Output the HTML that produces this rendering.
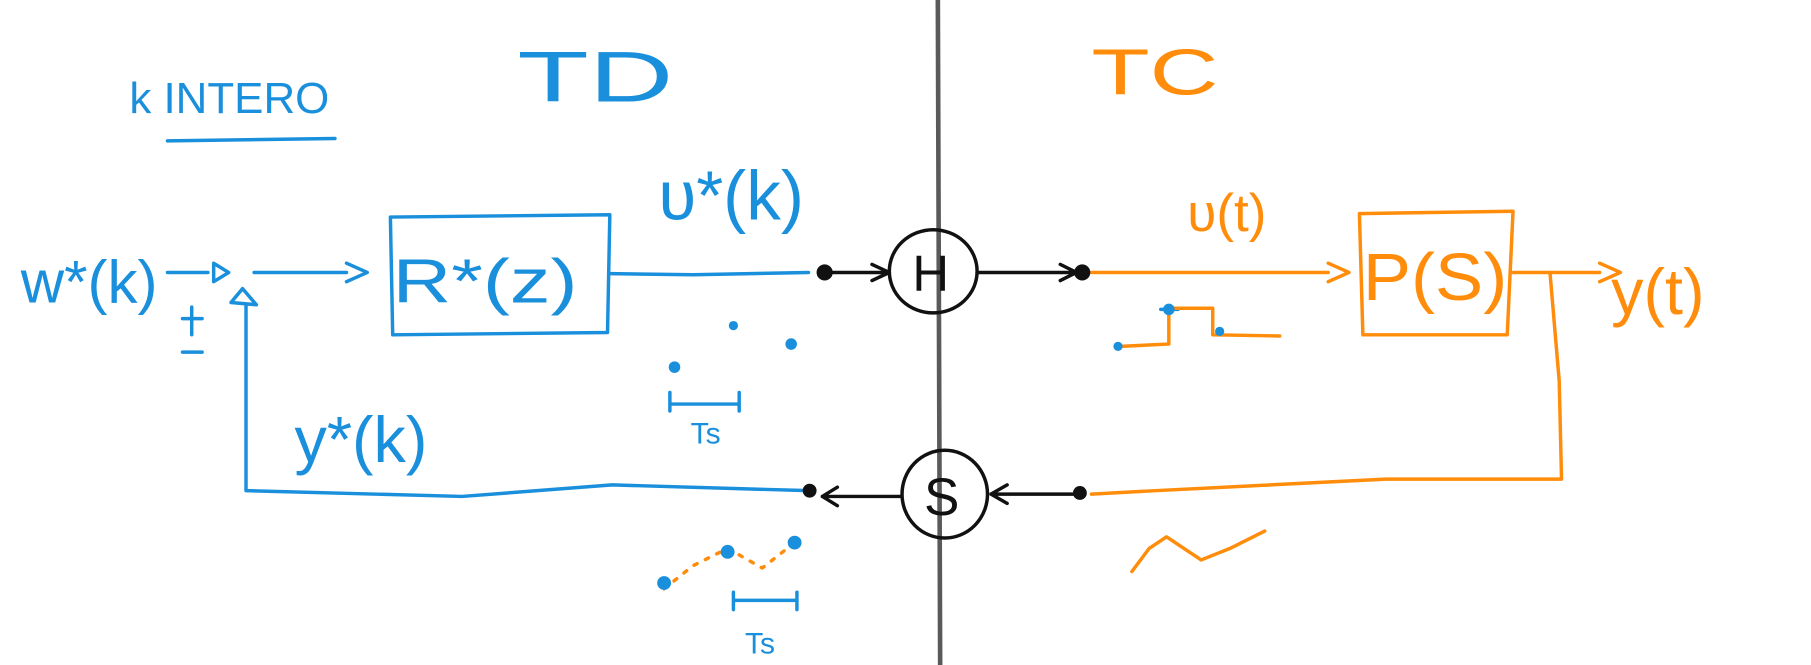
<!DOCTYPE html>
<html><head><meta charset="utf-8"><style>
html,body{margin:0;padding:0;background:#fff;width:1811px;height:665px;overflow:hidden}
svg{display:block}
text{font-family:"Liberation Sans",sans-serif}
</style></head><body>
<svg width="1811" height="665" viewBox="0 0 1568 576" preserveAspectRatio="none">
<g fill="none" stroke-linecap="round" stroke-linejoin="round">
<line x1="812" y1="0" x2="814" y2="576" stroke="#5a5a5a" stroke-width="4"/>
<!-- blue -->
<g stroke="#1a8fdc" stroke-width="3">
<path d="M145 122 L290 120"/>
<path d="M145 236 L180 236 M185 228 L198 236 L185 244 Z M220 236 L300 236 M300 228 L318 236 L300 244"/>
<path d="M200 262 L210 250 L222 264 Z"/>
<path d="M338 188 L528 186 L526 288 L340 290 Z"/>
<path d="M528 237 L600 238 L700 236"/>
<path d="M213 265 L213 425 L400 430 L530 420 L700 425"/>
<path d="M158 276 L175 276 M166 266 L166 290 M158 305 L175 305"/>
<path d="M580 340 L580 356 M580 350 L640 350 M640 340 L640 356"/>
<path d="M635 513 L635 528 M635 520 L690 520 M690 513 L690 528"/>
<path d="M1005 268 L1020 268"/>
</g>
<!-- orange -->
<g stroke="#ff8c0a" stroke-width="3">
<path d="M945 236 L1150 236 M1150 228 L1168 236 L1150 244"/>
<path d="M1177 185 L1310 183 L1305 290 L1180 290 Z"/>
<path d="M1310 236 L1385 236 M1385 228 L1403 236 L1385 244"/>
<path d="M1342 236 L1350 330 L1352 415 L1200 415 L1000 425 L945 428"/>
<path d="M970 300 L1012 298 L1012 267 L1050 267 L1050 290 L1108 291"/>
<path d="M980 495 L995 475 L1010 465 L1040 485 L1065 475 L1095 460"/>
<path d="M575 510 L600 490 L630 475 L660 492 L688 470" stroke-dasharray="3 8"/>
</g>
<!-- black -->
<g stroke="#111" stroke-width="3">
<ellipse cx="808" cy="235" rx="38" ry="36"/>
<ellipse cx="818" cy="428" rx="37" ry="38"/>
<path d="M715 236 L770 236 M755 229 L770 236 L755 243"/>
<path d="M846 236 L935 236 M918 229 L932 236 L918 243"/>
<path d="M780 430 L712 430 M725 422 L712 430 L725 438"/>
<path d="M935 428 L858 428 M872 420 L858 428 L872 436"/>
</g>
</g>
<g fill="#111"><circle cx="714" cy="236" r="7"/><circle cx="937" cy="236" r="7"/><circle cx="701" cy="425" r="6"/><circle cx="935" cy="427" r="6"/></g>
<g fill="#1a8fdc"><circle cx="635" cy="282" r="4"/><circle cx="685" cy="298" r="5"/><circle cx="584" cy="318" r="5"/><circle cx="630" cy="478" r="6"/><circle cx="688" cy="470" r="6"/><circle cx="575" cy="505" r="6"/><circle cx="1012" cy="268" r="5"/><circle cx="968" cy="300" r="4"/><circle cx="1056" cy="287" r="4"/></g>
<g font-size="44" fill="#1a8fdc">
<text x="112" y="98" font-size="38">k INTERO</text>
<text x="448" y="88" font-size="62" textLength="135" lengthAdjust="spacingAndGlyphs">TD</text>
<text x="570" y="190" font-size="60">υ*(k)</text>
<text x="18" y="262" font-size="52">w*(k)</text>
<text x="340" y="262" font-size="54" textLength="160" lengthAdjust="spacingAndGlyphs">R*(z)</text>
<text x="255" y="400" font-size="56">y*(k)</text>
<text x="598" y="384" font-size="26">Ts</text>
<text x="645" y="566" font-size="26">Ts</text>
</g>
<g fill="#ff8c0a">
<text x="945" y="82" font-size="56" textLength="110" lengthAdjust="spacingAndGlyphs">TC</text>
<text x="1028" y="200" font-size="46">υ(t)</text>
<text x="1180" y="260" font-size="58" textLength="125" lengthAdjust="spacingAndGlyphs">P(S)</text>
<text x="1395" y="272" font-size="56">y(t)</text>
</g>
<g fill="#111"><text x="790" y="252" font-size="44">H</text><text x="800" y="446" font-size="46">S</text></g>
</svg>
</body></html>
